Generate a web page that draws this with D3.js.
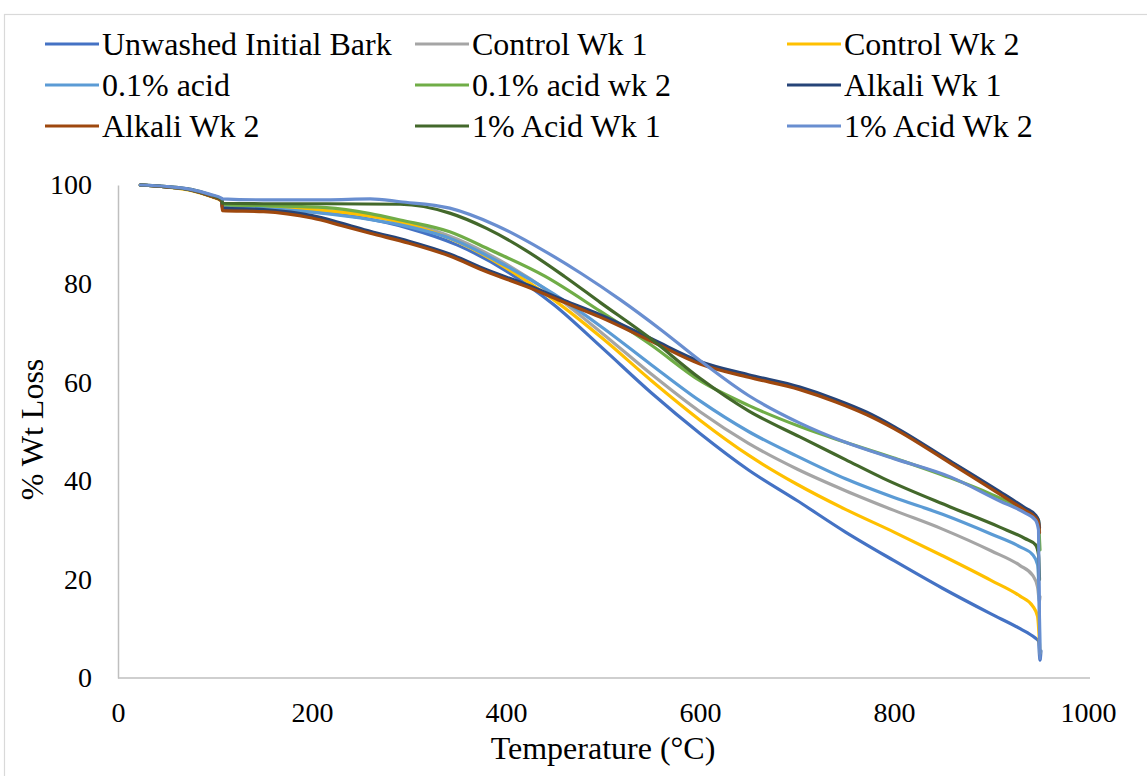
<!DOCTYPE html>
<html>
<head>
<meta charset="utf-8">
<script src="https://cdn.jsdelivr.net/npm/d3@7"></script>
<style>
  html, body { margin: 0; padding: 0; background: #fff; }
  svg { display: block; }
</style>
</head>
<body>
<svg id="chart" width="1147" height="776"></svg>
<script>
// ---------- DATA ----------
const seriesNames = [
  "Unwashed Initial Bark", "Control Wk 1", "Control Wk 2",
  "0.1% acid", "0.1% acid wk 2", "Alkali Wk 1",
  "Alkali Wk 2", "1% Acid Wk 1", "1% Acid Wk 2"
];
const seriesColors = [
  "#4472C4", "#A5A5A5", "#FFC000",
  "#5B9BD5", "#70AD47", "#264478",
  "#9E480E", "#43682B", "#698ED0"
];
const xTicks = [0, 200, 400, 600, 800, 1000];
const yTicks = [0, 20, 40, 60, 80, 100];

// [temperature °C, % wt]
const unwashed = [[23,100],[50,99.6],[75,99],[95,97.9],[107,96.9],[107.5,95.6],[150,95.3],[200,94.6],[250,93.4],[300,91.2],[350,87.8],[400,82.6],[450,75.6],[500,66.8],[550,57.8],[600,49.6],[650,42.2],[700,36],[750,29.6],[800,23.8],[850,18.2],[900,13],[930,10],[945,8.2],[949,7.5],[950,4.5],[950.5,3.6],[951.5,5.5]];
const controlWk1 = [[23,100],[50,99.6],[75,99],[95,97.8],[107,96.8],[107.5,95.8],[150,95.5],[200,95],[250,94],[300,92.3],[350,89],[400,84],[450,77.6],[500,69.8],[550,61.6],[600,54],[650,47.6],[700,42.4],[750,38],[800,34],[850,30.2],[900,25.8],[930,22.8],[943,20.8],[948,18.5],[950,15.5],[950.5,16.5]];
const controlWk2 = [[23,100],[50,99.6],[75,98.9],[95,97.7],[107,96.7],[107.5,95.9],[150,95.5],[200,95],[250,94],[300,92],[350,88.5],[400,83.2],[450,76.6],[500,68.8],[550,60.3],[600,52.3],[650,45.2],[700,39.3],[750,34.2],[800,29.6],[850,24.8],[900,19.8],[930,16.6],[943,14.6],[948,12.5],[950,7],[950.5,5]];
const acid01 = [[23,100],[50,99.6],[75,99],[95,97.8],[107,96.8],[107.5,95.5],[150,95.2],[200,94.5],[250,93.3],[291,91.9],[342,89.2],[400,83.6],[450,77.8],[500,71],[550,63.5],[600,56.2],[650,50],[700,45],[750,40.4],[800,36.6],[850,33.2],[900,29.2],[930,26.6],[943,25],[948,23],[950,12],[950.5,5]];
const acid01Wk2 = [[23,100],[50,99.6],[75,99],[95,97.8],[107,96.9],[107.5,96],[150,95.8],[215,95.4],[260,94.2],[291,92.9],[342,90.5],[384,86.8],[440,81.5],[497,74.4],[550,67.5],[600,60.3],[650,55.3],[703,51],[750,47.8],[800,44.6],[858,40.6],[900,37.3],[930,34.6],[945,33],[949,32],[950,28],[950.5,26]];
const alkaliWk1 = [[23,100],[50,99.6],[75,99],[95,97.8],[107,96.8],[107.5,95.3],[150,95],[200,93.8],[230,92.3],[260,90.6],[300,88.6],[342,86],[380,82.8],[421,79.8],[460,76.6],[497,73.7],[550,68.8],[600,64.2],[650,61.5],[703,59],[740,56.5],[772,53.9],[800,51],[858,44],[909,37.8],[935,34.5],[946,33],[949,32],[950,30.5]];
const alkaliWk2 = [[23,100],[50,99.6],[75,99],[95,97.8],[107,96.8],[107.5,94.8],[150,94.6],[200,93.3],[230,91.8],[260,90.2],[300,88.2],[342,85.6],[380,82.4],[421,79.4],[460,76.2],[497,73.2],[550,68.3],[600,63.7],[650,61],[703,58.5],[740,56],[772,53.4],[800,50.6],[858,43.6],[909,37.3],[935,34],[946,32.5],[949,31.5],[950,29.5]];
const acid1Wk1 = [[23,100],[50,99.7],[75,99.1],[95,98],[107,97.1],[107.5,96.3],[150,96.2],[215,96.2],[291,96.1],[342,94.3],[380,91.2],[420,86.8],[460,81.5],[497,76.2],[548,69],[600,60.8],[650,54.2],[703,48.9],[750,44.3],[789,40.5],[858,34.7],[909,30.6],[935,28.3],[946,27],[949,25],[950,20]];
const acid1Wk2 = [[23,100],[50,99.7],[75,99.1],[95,98.1],[107,97.3],[107.5,97.2],[150,97],[215,97],[260,97.2],[291,96.6],[342,95.3],[390,91.8],[438,86.8],[478,82],[518,76.7],[560,70.6],[600,64.4],[650,57.3],[703,51.7],[750,47.8],[800,44.5],[858,40.8],[909,35.9],[935,33.5],[946,32],[949,30],[950,10],[950.5,4]];

const seriesData = [unwashed, controlWk1, controlWk2, acid01, acid01Wk2, alkaliWk1, alkaliWk2, acid1Wk1, acid1Wk2];

// ---------- LAYOUT ----------
const W = 1147, H = 776;
const plot = { left: 118, right: 1088, top: 185, bottom: 678 };
const FONT = "'Liberation Serif', 'Times New Roman', serif";

const svg = d3.select("#chart");

// chart border
svg.append("rect")
  .attr("x", 4.5).attr("y", 14.5)
  .attr("width", W + 10).attr("height", H + 10)
  .attr("fill", "#fff").attr("stroke", "#d9d9d9").attr("stroke-width", 1.2);

const x = d3.scaleLinear().domain([0, 1000]).range([plot.left, plot.right]);
const y = d3.scaleLinear().domain([0, 100]).range([plot.bottom, plot.top]);

// axes
const xAxis = d3.axisBottom(x).tickValues(xTicks).tickFormat(d3.format("d")).tickSize(0).tickPadding(24);
const yAxis = d3.axisLeft(y).tickValues(yTicks).tickFormat(d3.format("d")).tickSize(0).tickPadding(26);

const gx = svg.append("g").attr("transform", `translate(0,${plot.bottom})`).call(xAxis);
const gy = svg.append("g").attr("transform", `translate(${plot.left},0)`).call(yAxis);
[gx, gy].forEach(g => {
  g.select(".domain").attr("stroke", "#bfbfbf").attr("stroke-width", 1.5);
  g.selectAll("text").attr("font-family", FONT).attr("font-size", 28).attr("fill", "#000");
});
gx.select(".domain").attr("d", `M${plot.left},0H${plot.right + 2}`);

// axis titles
svg.append("text")
  .attr("x", (plot.left + plot.right) / 2).attr("y", 759)
  .attr("text-anchor", "middle")
  .attr("font-family", FONT).attr("font-size", 32).attr("fill", "#000")
  .text("Temperature (°C)");
svg.append("text")
  .attr("transform", `translate(43,${(plot.top + plot.bottom) / 2 - 2}) rotate(-90)`)
  .attr("text-anchor", "middle")
  .attr("font-family", FONT).attr("font-size", 32).attr("fill", "#000")
  .text("% Wt Loss");

// lines
const line = d3.line()
  .x(d => x(d[0])).y(d => y(d[1]))
  .curve(d3.curveMonotoneX);

svg.append("g").selectAll("path")
  .data(seriesData)
  .join("path")
  .attr("d", d => line(d))
  .attr("fill", "none")
  .attr("stroke", (d, i) => seriesColors[i])
  .attr("stroke-width", 3.2)
  .attr("stroke-linejoin", "round")
  .attr("stroke-linecap", "round");

// legend
const legCols = [45, 415, 787];
const legRows = [44, 85, 126];
const leg = svg.append("g");
seriesNames.forEach((name, i) => {
  const cx = legCols[i % 3], cy = legRows[Math.floor(i / 3)];
  leg.append("line")
    .attr("x1", cx).attr("x2", cx + 54)
    .attr("y1", cy).attr("y2", cy)
    .attr("stroke", seriesColors[i]).attr("stroke-width", 3.2);
  leg.append("text")
    .attr("x", cx + 57).attr("y", cy)
    .attr("dominant-baseline", "central")
    .attr("font-family", FONT).attr("font-size", 32).attr("fill", "#000")
    .text(name);
});
</script>
</body>
</html>
